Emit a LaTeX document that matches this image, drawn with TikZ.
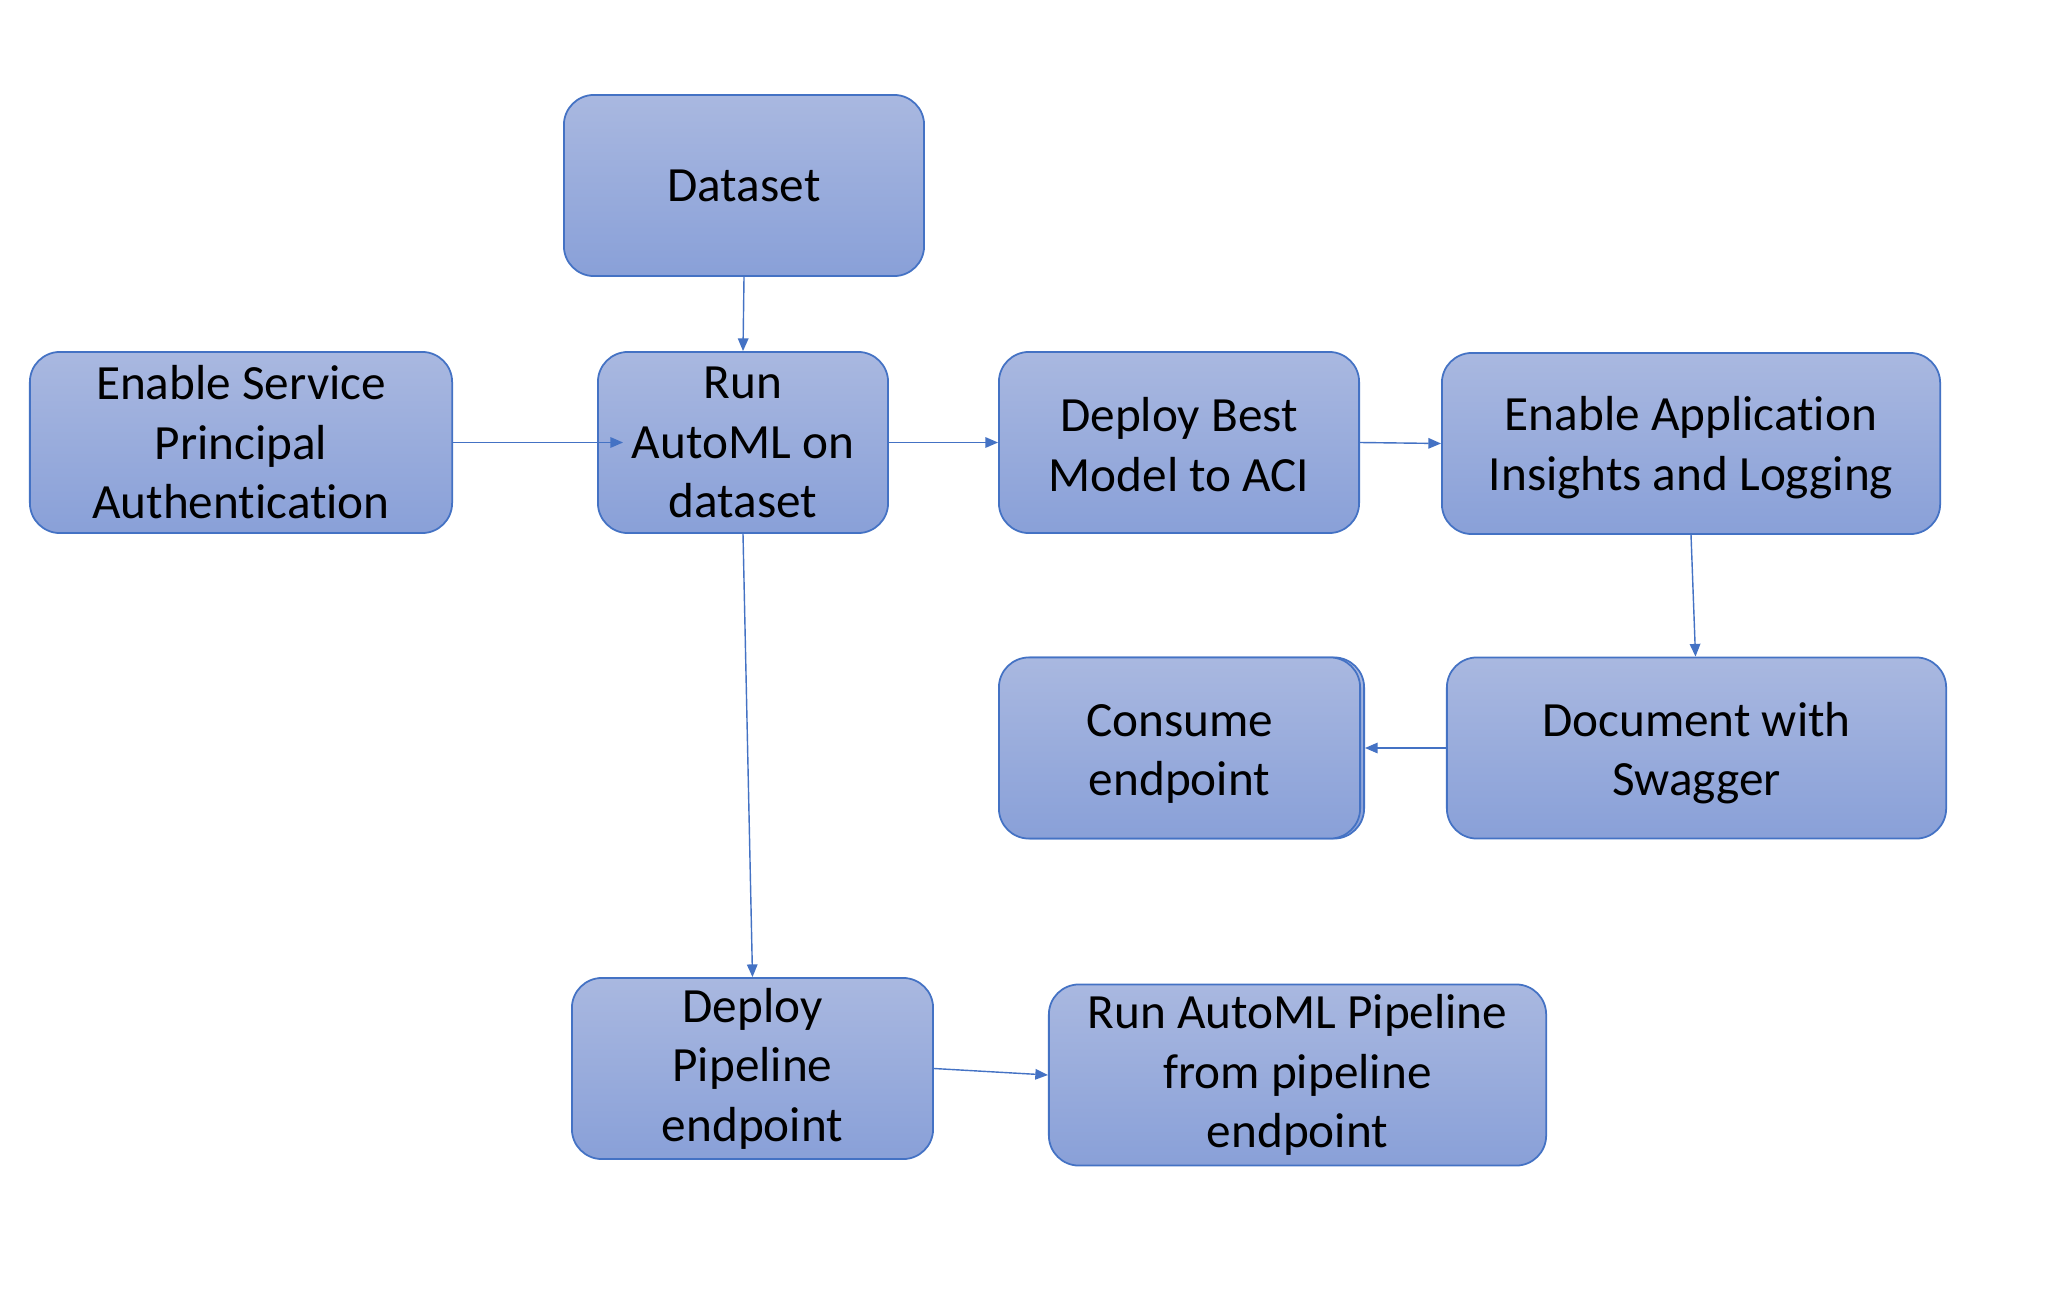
\documentclass[tikz,border=0pt]{standalone}
\usepackage{fontspec}
\setmainfont[Ligatures=NoCommon]{Carlito}
\usetikzlibrary{arrows.meta}
\definecolor{edgeblue}{HTML}{4472C4}
\definecolor{topc}{RGB}{169,184,224}
\definecolor{botc}{RGB}{137,160,216}
\tikzset{
  txt/.style={inner sep=0pt, align=center, font=\fontsize{14}{16.9}\selectfont},
  box/.style={draw=edgeblue, line width=0.5pt, rounded corners=0.3cm,
    top color=topc, bottom color=botc, minimum height=1.81cm, txt},
  arr/.style={draw=edgeblue, line width=0.4pt,
    -{Triangle[length=3.6pt, width=3pt, fill=edgeblue]}}
}
\begin{document}
\begin{tikzpicture}[x=0.01cm, y=-0.01cm]
\useasboundingbox[fill=white] (0,0) rectangle (2067,1300);
\node[box, minimum width=3.6cm] (ds) at (744,185.5) {Dataset};
\node[box, minimum width=4.22cm] (sp) at (241,442.5) {Enable Service\\Principal\\Authentication};
\node[box, minimum width=2.9cm] (run) at (743,442.5) {Run\\AutoML on\\dataset};
\node[box, minimum width=3.6cm] (dep) at (1179,442.5) {};
\node[txt] (deptxt) at ([yshift=-0.02cm]dep.center) {Deploy Best\\Model to ACI};
\node[box, minimum width=4.98cm] (ai) at (1691,443.5) {};
\node[txt] (aitxt) at ([yshift=-0.04cm]ai.center) {Enable Application\\Insights and Logging};
\node[box, minimum width=3.61cm] (conb) at (1183.5,748) {};
\node[box, minimum width=3.61cm] (con) at (1179.5,748) {};
\node[txt] (contxt) at ([yshift=-0.06cm]con.center) {Consume\\endpoint};
\node[box, minimum width=4.99cm] (doc) at (1696.5,748) {};
\node[txt] (doctxt) at ([yshift=-0.05cm]doc.center) {Document with\\Swagger};
\node[box, minimum width=3.61cm] (dp) at (752.5,1068.5) {Deploy\\Pipeline\\endpoint};
\node[box, minimum width=4.97cm] (rp) at (1297.5,1075) {Run AutoML Pipeline\\from pipeline\\endpoint};
\draw[arr] (ds.south) -- (run.north);
\draw[arr] (sp.east) -- ([xshift=0.26cm]run.west);
\draw[arr] (run.east) -- (dep.west);
\draw[arr] (dep.east) -- (ai.west);
\draw[arr] (ai.south) -- ([xshift=-0.01cm]doc.north);
\draw[arr] (doc.west) -- (conb.east);
\draw[arr] (run.south) -- (dp.north);
\draw[arr] (dp.east) -- (rp.west);
\end{tikzpicture}
\end{document}
